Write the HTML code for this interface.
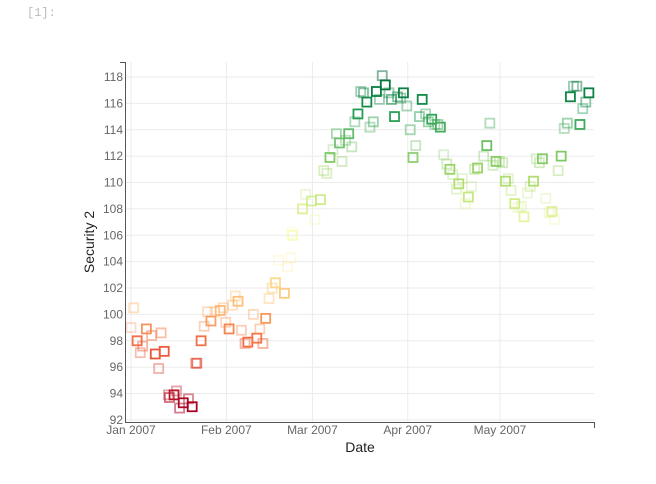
<!DOCTYPE html>
<html><head><meta charset="utf-8"><style>
html,body{margin:0;padding:0;background:#fff;width:656px;height:484px;overflow:hidden}
svg text{font-family:"Liberation Sans",sans-serif}
</style></head><body>
<div style="position:absolute;left:27px;top:6px;font:12px 'Liberation Mono',monospace;color:#bbb">[1]:</div>
<svg id="chart" width="656" height="484" style="position:absolute;left:0;top:0">
<g id="grid"></g>
<g id="marks"></g>
<g id="axes"></g>
<text x="94" y="242" transform="rotate(-90 94 242)" text-anchor="middle" font-size="14" fill="#222">Security 2</text>
<text x="360" y="452" text-anchor="middle" font-size="14" fill="#222">Date</text>
</svg>
<script>
const days=[0.9,0,2,3,3.8,5,6.7,9.8,7.9,10.8,9,12.2,12.5,14,14.8,15.8,17,18.7,19.9,21,21.4,22.8,23.8,24.9,26,27.3,29,30,30.8,31.9,33,33.9,34.8,35.9,37.1,38,39.8,40.9,41.9,42.9,43.8,44.9,45.9,47,48,49.9,50.9,52,52.3,52.6,55.8,56.8,58.7,61.6,59.8,62.7,63.7,64.7,65.7,66.8,67.8,68.6,69.8,70.8,71.8,72.8,73.8,74.7,75.6,76.7,77.7,78.8,79.8,80.8,81.7,82.7,83.9,84.7,85.7,86.7,87.7,88.6,89.7,90.8,91.7,92.6,93.8,94.7,95.8,96.7,97.8,98.8,99.8,100.6,101.7,102.7,103.7,104.6,106.6,105.8,107.8,109.7,108.7,110.7,111.7,112.7,114.7,115.7,116.7,117.7,118.7,119.8,120.9,121.8,122.7,123.6,124.8,125.9,126.9,127.8,128.9,129.8,130.9,131.8,132.8,133.8,134.9,136,136.9,137.8,138.9,139.9,140.9,141.9,142.9,143.9,145,146,146.9,147.9,148.9];
const values=[100.5,99.0,98.0,97.1,97.6,98.9,98.4,98.6,97.0,97.2,95.9,93.9,93.7,93.9,94.2,92.9,93.3,93.6,93.0,96.3,96.3,98.0,99.1,100.2,99.5,100.2,100.3,100.5,99.4,98.9,100.7,101.4,101.0,98.8,97.8,97.9,100.0,98.2,98.9,97.8,99.7,101.2,102.0,102.4,104.1,101.6,103.6,104.3,106.2,106.0,108.0,109.1,108.6,108.7,107.2,110.9,110.7,111.9,112.5,113.7,113.0,111.6,113.2,113.7,112.7,114.6,115.2,116.9,116.8,116.1,114.2,114.6,116.9,116.3,118.1,117.4,116.8,116.3,115.0,116.5,116.4,116.8,115.8,114.0,111.9,112.8,115.0,116.3,115.2,114.6,114.8,114.4,114.4,114.2,112.1,111.4,111.0,110.6,109.9,109.5,110.3,108.9,108.4,109.7,111.0,111.1,112.0,112.8,114.5,111.3,111.6,111.6,111.5,110.1,110.3,109.4,108.4,108.1,108.2,107.4,109.2,109.7,110.1,111.8,111.5,111.8,108.8,107.7,107.8,107.2,110.9,112.0,114.1,114.5,116.5,117.3,117.3,114.4,115.6,116.1,116.8];
const alphas=[.4,.3,1,.4,.5,.9,.5,.5,1,1,.4,.4,.6,1,.4,.5,1,.5,1,.4,.7,1,.4,.4,.9,.4,.8,.4,.4,1,.4,.4,.9,.4,.5,1,.4,1,.4,.5,1,.4,.5,.9,.3,.9,.3,.3,.3,.9,.9,.3,.8,.9,.3,.4,.4,1,.3,.5,.9,.4,.4,.9,.4,.4,1,.4,.5,1,.4,.5,1,.4,.5,1,.4,.6,1,.5,.4,1,.4,.5,.9,.4,.5,1,.4,.5,1,.4,.5,1,.3,.4,1,.3,1,.4,.3,1,.3,.3,.4,1,.4,1,.4,.4,1,.4,.4,1,.3,.4,1,.3,.4,.9,.3,.4,1,.3,.4,1,.3,.4,.9,.3,.4,1,.4,.5,1,.4,.5,1,.4,.5,1];
const yTicks=[92,94,96,98,100,102,104,106,108,110,112,114,116,118];
const xTickDays=[0,31,59,90,120];
const xTickLabels=["Jan 2007","Feb 2007","Mar 2007","Apr 2007","May 2007"];

const NS="http://www.w3.org/2000/svg";
const xS=d=>131+d*3.075;
const yS=v=>77+(118-v)*13.19;
const stops=["#a50026","#d73027","#f46d43","#fdae61","#fee08b","#ffffbf","#d9ef8b","#a6d96a","#66bd63","#1a9850","#006837"];
function hex(h){return [1,3,5].map(i=>parseInt(h.substr(i,2),16));}
function cmap(v){let t=(v-92.9)/(118.1-92.9);t=Math.max(0,Math.min(1,t))*(stops.length-1);
 const i=Math.min(stops.length-2,Math.floor(t)),f=t-i,a=hex(stops[i]),b=hex(stops[i+1]);
 return "rgb("+a.map((c,k)=>Math.round(c+(b[k]-c)*f)).join(",")+")";}
function mk(tag,at,parent){const e=document.createElementNS(NS,tag);for(const k in at)e.setAttribute(k,at[k]);parent.appendChild(e);return e;}
const grid=document.getElementById('grid'),axes=document.getElementById('axes'),marks=document.getElementById('marks');
yTicks.forEach(v=>{
 const l=mk('line',{x1:126,x2:594,y1:yS(v),y2:yS(v),stroke:'#ebebeb','stroke-width':1},grid);
 
 
 const t=mk('text',{x:123,y:yS(v)+4,'text-anchor':'end','font-size':12,fill:'#666'},axes);
 t.textContent=v;
 
 
});
xTickDays.forEach((d,i)=>{
 const l=mk('line',{x1:xS(d),x2:xS(d),y1:62,y2:422,stroke:'#ebebeb','stroke-width':1},grid);
 
 
 const t=mk('text',{x:xS(d),y:434,'text-anchor':'middle','font-size':12,fill:'#666'},axes);
 t.textContent=xTickLabels[i];
 
 
});
const sp=mk('path',{d:'M120,62.5H125.5V422.5H594.5V428',fill:'none',stroke:'#555','stroke-width':1},axes);


days.forEach((d,i)=>{
 const r=mk('rect',{x:xS(d)-4.5,y:yS(values[i])-4.5,width:9,height:9,fill:'none',stroke:cmap(values[i]),'stroke-width':1.8,'stroke-opacity':alphas[i]},marks);
 
 
});
</script>
</body></html>
